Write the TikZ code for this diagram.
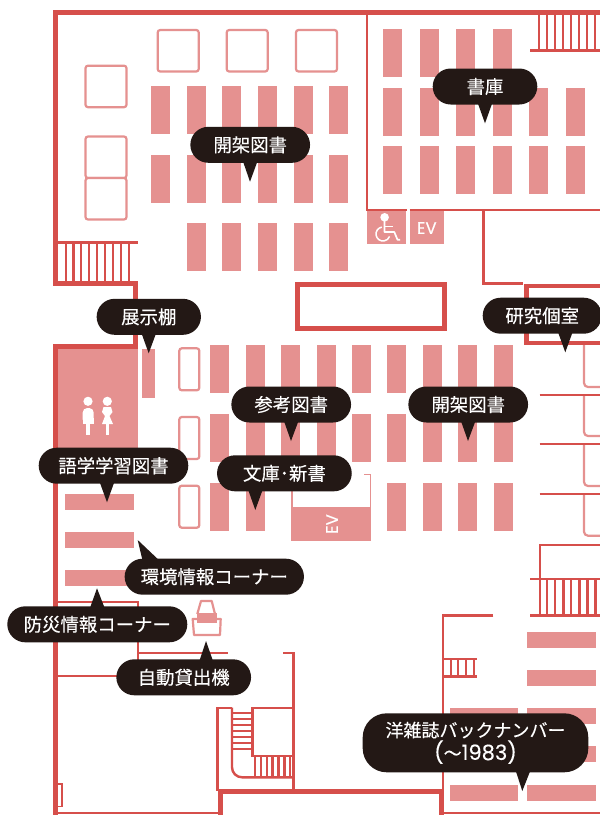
\documentclass[tikz,border=0pt]{standalone}
\usepackage{fontspec}
\setmainfont{Noto Sans CJK JP}[FakeBold=0.22]
\newfontfamily\latinfont{Poppins}[FakeBold=0.25]
\definecolor{wall}{HTML}{D64F4B}
\definecolor{shelfc}{HTML}{E59190}
\definecolor{bubc}{HTML}{231815}
\tikzset{
  thickwall/.style={draw=wall,line width=5pt,line join=miter},
  midwall/.style={draw=wall,line width=2.4pt},
  thinwall/.style={draw=wall,line width=1.9pt},
  lightline/.style={draw=shelfc,line width=2.2pt},
  shelfbox/.style={fill=shelfc},
  roundbox/.style={draw=shelfc,line width=2.2pt,rounded corners=2.5pt,fill=white},
  bubble/.style={fill=bubc,text=white,rounded corners=18pt,inner sep=0pt,minimum height=36pt,font=\fontsize{18.4}{22}\selectfont,align=center},
  tailfill/.style={fill=bubc}
}
\newcommand{\vshelves}[3]{\foreach \sx in {#1} {\fill[shelfbox] (\sx,#2) rectangle ++(19,#3);}}
\newcommand{\hshelves}[3]{\foreach \sy in {#1} {\fill[shelfbox] (#2,\sy) rectangle ++(#3,15.7);}}
\newcommand{\rungsv}[3]{\foreach \rx in {#1} {\draw[midwall] (\rx,#2) -- (\rx,#3);}}
\newcommand{\tailat}[4]{\fill[tailfill] ([xshift=#2pt,yshift=1pt]#1.south) -- (#3,#4) -- ([xshift=#2pt+14pt,yshift=1pt]#1.south) -- cycle;}
\begin{document}
\begin{tikzpicture}[x=1pt,y=-1pt]
\useasboundingbox (0,0) rectangle (600,815);
\fill[white] (0,0) rectangle (600,815);

% top-left walls
\draw[thickwall] (600,12) -- (55.5,12) -- (55.5,283) -- (135.5,283) -- (135.5,346.5) -- (55.5,346.5) -- (55.5,815);
\draw[midwall] (55,242.5) -- (138,242.5);
\rungsv{65.7,73.5,81.2,89,97,105,113.2,121,129}{242.5}{281}
% top-right stairs
\draw[midwall] (530,50.5) -- (600,50.5);
\rungsv{539,546.8,555,563.2,570.8,579.2,587.2,595}{14}{50.5}
% stack room walls
\draw[midwall] (366.7,12) -- (366.7,210) -- (407,210);
\draw[midwall] (409.5,210) -- (600,210);
\draw[midwall] (483.5,210) -- (483.5,283.5) -- (523,283.5);

% tables
\foreach \tx/\ty in {157.7/30,226.7/30,296/30,85.5/65.7,85.5/136.5,85.5/178}
  \draw[roundbox] (\tx,\ty) rectangle ++(41,41.5);

% upper shelves
\vshelves{151,187,222.3,258.3,293.5,329.3}{86}{48}
\vshelves{151,187,222.3,258.3,293.5,329.3}{155}{48}
\vshelves{187,222.3,258.3,293.5,329.3}{223}{48}
\vshelves{383.3,420.3,456.3,493.3}{29}{48}
\vshelves{383.3,420.3,456.3,493.3,529.3,566.3}{88}{48}
\vshelves{383.3,420.3,456.3,493.3,529.3,566.3}{146}{48}

% wheelchair and EV
\fill[shelfbox] (366.7,211) rectangle (406.3,243.7);
\fill[shelfbox] (409.7,211) rectangle (444.3,243.7);
\fill[white] (384.6,217.3) circle (4.3);
\draw[white,line width=1.5pt] (381.8,227.1) arc[start angle=260,end angle=20,radius=7];
\draw[white,line width=1.7pt,line join=round] (384.5,221) -- (384.5,232) -- (394.3,232) -- (397.5,239.7) -- (400,239.7);
\draw[white,line width=1.5pt] (385,226.5) -- (393,226.5);
\node[text=white,font=\latinfont\fontsize{16.5}{16.5}\selectfont] (evtop) at (426.8,228) {EV};

% centre box
\draw[thickwall] (297,284.5) rectangle (444,328.5);
% research room
\draw[draw=wall,line width=4.5pt] (600,286) -- (526.5,286) -- (526.5,343) -- (600,343);
% right side carrels
\foreach \ya/\yb in {345/387,395/436,444.3/486,494/535.7}
  \draw[lightline,rounded corners=4pt] (584,\ya) -- (584,\yb) -- (600,\yb);
\foreach \yl in {395,444.3,494}
  \draw[thinwall] (539.7,\yl) -- (600,\yl);
\draw[midwall] (600,545) -- (540,545) -- (540,579);
\draw[midwall] (530,579) -- (600,579);
\draw[midwall] (530,615.3) -- (600,615.3);
\rungsv{539.7,547,555,563.3,571,579.3,587.3,595.3}{579}{615.3}

% WC block
\fill[shelfc] (58,349) rectangle (138,465);
\fill[shelfc] (142.3,349) rectangle (155.3,397.7);
\fill[white] (88,401.3) circle (4.6);
\fill[white] (107.3,401.3) circle (4.6);
\fill[white,rounded corners=4.5pt] (82.7,408) -- (82.7,424) -- (93.7,424) -- (93.7,408) -- cycle;
\fill[white] (82.7,418) rectangle (93.7,424);
\fill[white] (86.3,420) rectangle (90.2,434.5);
\fill[white] (103.5,407) -- (111,407) -- (112.5,412) -- (109.5,416) -- (113,424) -- (102,424) -- (105,416) -- (102,412) -- cycle;
\fill[white] (105.5,420) rectangle (109.3,434.5);

% middle small tables
\foreach \ty in {348.3,417,485.7}
  \draw[roundbox] (179.3,\ty) rectangle ++(20,42);

% middle shelves
\vshelves{210.3,246.3,281.3,317.3,352.3,387.3,423.3,458.3,494.3}{345}{48}
\vshelves{210.3,246.3,281.3,317.3,352.3,387.3,423.3,458.3,494.3}{414}{48}
\vshelves{210.3,246.3,387.3,423.3,458.3,494.3}{483}{47.7}

% EV bay
\draw[lightline,line width=1.6pt] (292,507) -- (292,480);
\draw[lightline,line width=1.6pt] (364,474.5) -- (370.3,474.5) -- (370.3,507);
\fill[shelfc] (291,507.3) rectangle (371.3,541);
\node[text=white,rotate=90,font=\latinfont\fontsize{16.5}{16.5}\selectfont] (evmid) at (332,524) {EV};

% left shelves
\hshelves{494,532,570}{65.3}{69}

% lower left rooms
\draw[midwall] (57,601.7) -- (137.7,601.7) -- (137.7,676) -- (57,676);
\draw[midwall] (137.7,652.7) -- (227.7,652.7);
\draw[midwall] (283,652.7) -- (293.3,652.7) -- (293.3,791);
\draw[midwall] (55,813) -- (220,813);
\draw[draw=wall,line width=1.6pt,fill=white] (56.7,784) rectangle (61.7,806.3);

% stair core
\draw[midwall] (293.3,707.7) -- (252.5,707.7) -- (252.5,756) -- (293.3,756);
\draw[midwall] (232,707.7) -- (217.5,707.7) -- (217.5,791);
\draw[midwall,rounded corners=10pt] (232,707.7) -- (232,777.3) -- (293.3,777.3);
\foreach \ry in {713.3,719.3,725.3,731,737.3,743.3,749}
  \draw[draw=wall,line width=2pt] (232,\ry) -- (252.5,\ry);
\rungsv{255,260.7,266.7,272.3,278.3,284.3,290}{756}{777.3}

% bottom walls
\draw[draw=wall,line width=5pt] (220,815) -- (220,791) -- (441,791) -- (441,815);
\draw[midwall] (441,813) -- (600,813);

% magazines area
\draw[midwall] (493.3,615.3) -- (443,615.3) -- (443,791);
\draw[midwall] (443,659) -- (477,659);
\draw[midwall] (443,676.3) -- (477,676.3);
\rungsv{450.7,457.7,465.7,474}{659}{676.3}
\hshelves{632.3,670,708,746,785}{527.3}{69}
\hshelves{708,746,785}{449.7}{68.6}

% kiosk
\draw[lightline,line join=round] (197.3,614) -- (201,601) -- (211.7,601) -- (215,614);
\draw[lightline,line join=round] (192.7,619) -- (194,635) -- (220,635) -- (220.7,619) -- cycle;
\fill[shelfc] (196.7,612.7) rectangle (216.7,623.3);

% bubbles
\node[bubble,minimum width=119.7pt] (b1) at (250.2,144.8) {開架図書};
\tailat{b1}{-7}{250}{181.7}
\node[bubble,minimum width=104.6pt] (b2) at (485,86.5) {書庫};
\tailat{b2}{-7}{485}{123.3}
\node[bubble,minimum width=104.3pt] (b3) at (148.8,316.8) {展示棚};
\tailat{b3}{-7}{148.7}{353.3}
\node[bubble,minimum width=119pt] (b4) at (542.2,315.7) {研究個室};
\tailat{b4}{16.1}{565.3}{352.3}
\node[bubble,minimum width=119.7pt] (b5) at (291.2,404.5) {参考図書};
\tailat{b5}{-7}{291}{441}
\node[bubble,minimum width=119.7pt] (b6) at (468.2,404.5) {開架図書};
\tailat{b6}{-7}{468}{441}
\node[bubble,minimum width=134.7pt] (b7) at (284.4,473.3) {文庫･新書};
\tailat{b7}{-36}{255.3}{510}
\node[bubble,minimum width=149.6pt] (b8) at (113.5,465.7) {語学学習図書};
\tailat{b8}{-13.5}{107}{502.3}
\node[bubble,minimum width=179.3pt] (b9) at (214.3,576.7) {環境情報コーナー};
\fill[tailfill] ([xshift=-72pt,yshift=-1pt]b9.north) -- (137.7,540) -- ([xshift=-56pt,yshift=-1pt]b9.north) -- cycle;
\node[bubble,minimum width=180pt] (b10) at (97.3,624.3) {防災情報コーナー};
\fill[tailfill] ([xshift=-7pt,yshift=-1pt]b10.north) -- (97,588.3) -- ([xshift=7pt,yshift=-1pt]b10.north) -- cycle;
\node[bubble,minimum width=134.7pt] (b11) at (183.7,677.3) {自動貸出機};
\fill[tailfill] ([xshift=16pt,yshift=-1pt]b11.north) -- (206,641) -- ([xshift=29pt,yshift=-1pt]b11.north) -- cycle;
\node[bubble,minimum width=225.6pt,minimum height=59pt,rounded corners=24pt,font=\fontsize{18}{24}\selectfont] (b12) at (475.5,742.8) {洋雑誌バックナンバー\\[-1pt]{\latinfont\fontsize{21}{24}\selectfont (}～{\latinfont\fontsize{21}{24}\selectfont 1983)}};
\tailat{b12}{40.5}{522.3}{791}
\end{tikzpicture}
\end{document}
